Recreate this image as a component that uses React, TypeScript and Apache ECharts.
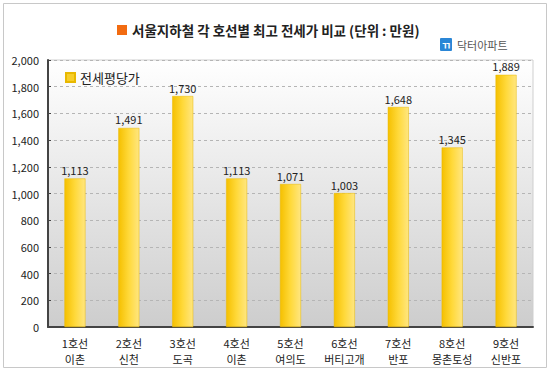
import React, { useEffect, useRef } from "react";
import * as echarts from "echarts";

const lines = ["1호선", "2호선", "3호선", "4호선", "5호선", "6호선", "7호선", "8호선", "9호선"];
const stations = ["이촌", "신천", "도곡", "이촌", "여의도", "버티고개", "반포", "몽촌토성", "신반포"];
const prices = [1113, 1491, 1730, 1113, 1071, 1003, 1648, 1345, 1889];
const seriesName = "전세평당가";
const titleText = "서울지하철 각 호선별 최고 전세가 비교 (단위 : 만원)";
const brandText = "닥터아파트";

const FONT = "'Noto Sans CJK KR', 'Noto Sans', sans-serif";
const fmt = (v: number) => v.toLocaleString("en-US");

export default function App() {
  const ref = useRef<HTMLDivElement>(null);
  useEffect(() => {
    document.body.style.margin = "0";
    const chart = echarts.init(ref.current!, null, { renderer: "svg" });
    const categories = lines.map((l, i) => `${l}\n${stations[i]}`);
    chart.setOption({
      animation: false,
      backgroundColor: "#ffffff",
      textStyle: { fontFamily: FONT },
      graphic: [
        {
          type: "rect",
          shape: { x: 3.5, y: 3.5, width: 543, height: 364 },
          style: { fill: "none", stroke: "#c8c8c8", lineWidth: 1 },
          z: 0,
        },
        {
          type: "rect",
          shape: { x: 117, y: 25, width: 10, height: 10 },
          style: { fill: "#F26B11" },
        },
        {
          type: "text",
          x: 132,
          y: 30,
          style: {
            text: titleText,
            font: `bold 13.5px ${FONT}`,
            fill: "#222",
            verticalAlign: "middle",
          },
        },
        {
          type: "rect",
          shape: { x: 440, y: 38, width: 12, height: 13, r: 1 },
          style: { fill: "#2A86D6" },
        },
        {
          type: "text",
          x: 446,
          y: 45,
          style: {
            text: "ㄲ",
            font: `bold 10px ${FONT}`,
            fill: "#fff",
            align: "center",
            verticalAlign: "middle",
          },
        },
        {
          type: "text",
          x: 457,
          y: 45,
          style: {
            text: brandText,
            font: `11px ${FONT}`,
            fill: "#555",
            verticalAlign: "middle",
          },
        },
      ],
      legend: {
        show: true,
        left: 60,
        top: 66,
        itemWidth: 9,
        itemHeight: 9,
        itemGap: 4,
        icon: "rect",
        textStyle: { fontSize: 13, color: "#222", fontFamily: FONT },
        data: [{ name: seriesName, itemStyle: { color: "#F7CE2A" } }],
      },
      grid: {
        left: 48,
        right: 17,
        top: 60,
        bottom: 45,
        show: true,
        borderColor: "#cfcfcf",
        borderWidth: 1,
        backgroundColor: {
          type: "linear",
          x: 0,
          y: 0,
          x2: 0,
          y2: 1,
          colorStops: [
            { offset: 0, color: "#ffffff" },
            { offset: 1, color: "#cdcdcd" },
          ],
        },
      },
      xAxis: {
        type: "category",
        data: categories,
        axisLine: { lineStyle: { color: "#444", width: 2 } },
        axisTick: { inside: true, length: 3, lineStyle: { color: "#444" } },
        axisLabel: {
          color: "#222",
          fontSize: 11,
          lineHeight: 16,
          margin: 8,
          interval: 0,
          fontFamily: FONT,
        },
      },
      yAxis: {
        type: "value",
        min: 0,
        max: 2000,
        interval: 200,
        axisLine: { show: true, lineStyle: { color: "#444", width: 2 } },
        axisTick: { show: true, inside: true, length: 3, lineStyle: { color: "#444" } },
        axisLabel: {
          color: "#222",
          fontSize: 11,
          margin: 9,
          fontFamily: FONT,
          formatter: (v: number) => fmt(v),
        },
        splitLine: { lineStyle: { color: "#b5b5b5", type: [3, 3] } },
      },
      series: [
        {
          name: seriesName,
          type: "bar",
          data: prices,
          barWidth: "39%",
          itemStyle: {
            borderColor: "#E8B800",
            borderWidth: 0.5,
            color: {
              type: "linear",
              x: 0,
              y: 0,
              x2: 1,
              y2: 0,
              colorStops: [
                { offset: 0, color: "#F5C000" },
                { offset: 0.5, color: "#FFD93A" },
                { offset: 1, color: "#FFE680" },
              ],
            },
          },
          label: {
            show: true,
            position: "top",
            distance: 3,
            color: "#222",
            fontSize: 11,
            fontFamily: FONT,
            formatter: (p: any) => fmt(p.value),
          },
        },
      ],
    });
    return () => chart.dispose();
  }, []);
  return <div ref={ref} style={{ width: 550, height: 372 }} />;
}
